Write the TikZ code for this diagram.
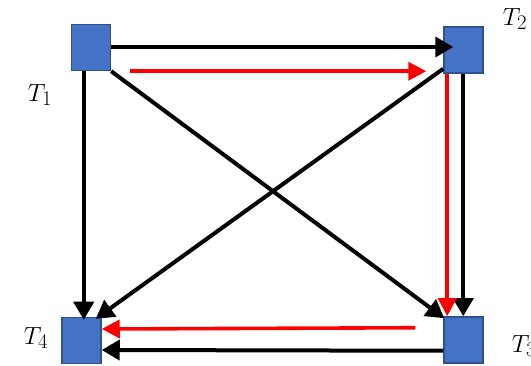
\documentclass[tikz,border=0pt]{standalone}
\usetikzlibrary{arrows.meta,calc}
\definecolor{boxfill}{HTML}{4472C4}
\definecolor{boxline}{HTML}{2F528F}
\definecolor{redline}{HTML}{FF0000}
\begin{document}
\begin{tikzpicture}[x=1pt,y=-1pt,
  tbox/.style={draw=boxline,line width=1.5pt,fill=boxfill,minimum width=39pt,minimum height=46pt,inner sep=0pt},
  blk/.style={draw=black,line width=4pt,-{Triangle[length=18pt,width=20pt]}},
  rd/.style={draw=redline,line width=3.6pt,-{Triangle[length=18pt,width=18pt]}},
  lbl/.style={font=\fontsize{29}{32}\selectfont,inner sep=0pt}]
\useasboundingbox (0,0) rectangle (531,366);
\node[tbox] (T1) at (91,47.5) {};
\node[tbox] (T2) at (463.5,50) {};
\node[tbox] (T4) at (81.5,340.5) {};
\node[tbox] (T3) at (463.5,340) {};
\node[lbl] (L1) at (40,95) {$T_1$};
\node[lbl] (L2) at (515,19) {$T_2$};
\node[lbl] (L4) at (36,338) {$T_4$};
\node[lbl] (L3) at (524,346) {$T_3$};
% black arrows
\draw[blk] ($(T1.east)+(0,-0.5)$) -- ($(T2.west)+(10,-3)$);
\draw[blk] ($(T1.south west)+(13,0)$) -- ($(T4.north west)+(22.5,3)$);
\draw[blk] (T1.south east) -- ($(T3.north west)+(1,2)$);
\draw[blk] ($(T2.south west)+(0,-5)$) -- ($(T4.north east)+(-6,2)$);
\draw[blk] ($(T2.south west)+(20,0)$) -- ($(T3.north west)+(20,0)$);
\draw[blk] ($(T3.south west)+(0,-13)$) -- ($(T4.east)+(0,9.5)$);
% red arrows
\draw[rd] ($(T1.south east)+(19,0)$) -- ($(T2.south west)+(-17,-2.5)$);
\draw[rd] ($(T2.south west)+(4,0)$) -- ($(T3.north west)+(4,0)$);
\draw[rd] ($(T3.north west)+(-28,11.5)$) -- ($(T4.east)+(0,-11.5)$);
\end{tikzpicture}
\end{document}
